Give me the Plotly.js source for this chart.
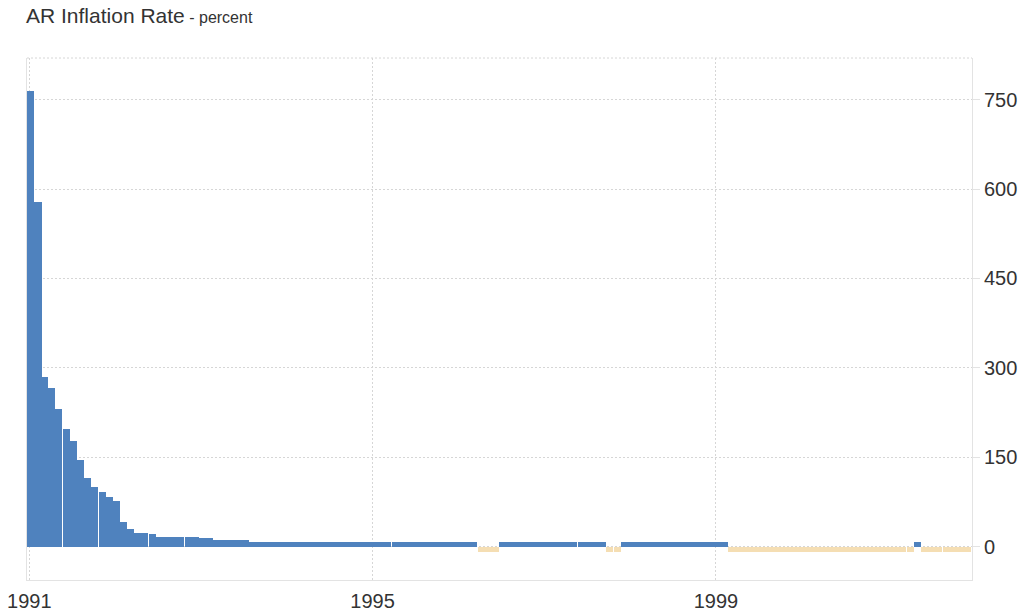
<!DOCTYPE html>
<html>
<head>
<meta charset="utf-8">
<script src="https://cdn.plot.ly/plotly-3.0.1.min.js"></script>
<style>
html,body{margin:0;padding:0;background:#ffffff;}
#chart{width:1026px;height:612px;}
</style>
</head>
<body>
<div id="chart"></div>
<script>
// Monthly inflation rate (percent)
const years = [1991, 1992, 1993, 1994, 1995, 1996, 1997, 1998, 1999, 2000, 2001];
const rate1991 = [764, 578, 284, 266, 231, 198, 178, 145, 115, 100, 91, 83];
const rate1992 = [76, 41, 30, 23.5, 23.5, 21, 17, 17, 17, 17, 17, 17];
const rate1993 = [14.6, 14.6, 11.8, 11.3, 11.2, 11.2, 11.2, 8.4, 8.4, 8.4, 8.4, 8.4];
const rate1994 = [8.4, 8.4, 8.4, 8.4, 8.4, 8.4, 8.4, 8.4, 8.4, 8.4, 8.4, 8.4];
const rate1995 = [8.4, 8.4, 8.4, 8.4, 8.4, 8.4, 8.4, 8.4, 8.4, 8.4, 8.4, 8.4];
const rate1996 = [8.4, 8.4, 8.4, -9.5, -9.5, -9.5, 8.4, 8.4, 8.4, 8.4, 8.4, 8.4];
const rate1997 = [8.4, 8.4, 8.4, 8.4, 8.4, 8.4, 8.4, 8.4, 8.4, -9.5, -9.5, 8.4];
const rate1998 = [8.4, 8.4, 8.4, 8.4, 8.4, 8.4, 8.4, 8.4, 8.4, 8.4, 8.4, 8.4];
const rate1999 = [8.4, 8.4, -9.5, -9.5, -9.5, -9.5, -9.5, -9.5, -9.5, -9.5, -9.5, -9.5];
const rate2000 = [-9.5, -9.5, -9.5, -9.5, -9.5, -9.5, -9.5, -9.5, -9.5, -9.5, -9.5, -9.5];
const rate2001 = [-9.5, -9.5, -9.5, -9.5, 8.4, -9.5, -9.5, -9.5, -9.5, -9.5, -9.5, -9.5];
const yearlyRates = [rate1991, rate1992, rate1993, rate1994, rate1995, rate1996, rate1997, rate1998, rate1999, rate2000, rate2001];

const yTickValues = [0, 150, 300, 450, 600, 750];
const xTickDates = ['1991-01-01', '1995-01-01', '1999-01-01'];
const xTickLabels = ['1991', '1995', '1999'];

// Build month dates and the flat series from the per-year arrays
const dates = [];
const values = [];
years.forEach((yr, yi) => {
  yearlyRates[yi].forEach((v, mi) => {
    dates.push(yr + '-' + String(mi + 1).padStart(2, '0') + '-01');
    values.push(v);
  });
});

const BLUE = '#4f82be';
const WHEAT = '#f5deb3';
const DAY = 86400000;

const trace = {
  type: 'bar',
  x: dates,
  y: values,
  width: 30.44 * DAY,
  offset: -9.5 * DAY,
  marker: {
    color: values.map(v => v < 0 ? WHEAT : BLUE),
    line: {width: 0}
  },
  hoverinfo: 'x+y',
  showlegend: false
};

const FONT = 'Liberation Sans, Arial, sans-serif';
const GRID = '#d6d6d6';
const DOTS = '2px,2px';

const layout = {
  width: 1026,
  height: 612,
  margin: {l: 27, r: 54, t: 58, b: 32, pad: 0},
  paper_bgcolor: '#ffffff',
  plot_bgcolor: '#ffffff',
  font: {family: FONT, color: '#333333'},
  title: {
    text: 'AR Inflation Rate<span style="font-size:16px"> - percent</span>',
    font: {family: FONT, size: 21, color: '#333333'},
    xref: 'container', yref: 'container',
    x: 26 / 1026, xanchor: 'left',
    y: 1 - 16 / 612, yanchor: 'middle'
  },
  bargap: 0,
  xaxis: {
    type: 'date',
    range: ['1990-12-22', '2001-12-26'],
    tickvals: xTickDates,
    ticktext: xTickLabels,
    tickfont: {family: FONT, size: 20, color: '#333333'},
    showgrid: true,
    gridcolor: GRID,
    griddash: DOTS,
    gridwidth: 1,
    showline: true,
    linecolor: '#e3e3e3',
    linewidth: 1,
    ticks: 'outside',
    ticklen: 3,
    tickcolor: 'rgba(0,0,0,0)',
    zeroline: false,
    fixedrange: true
  },
  yaxis: {
    side: 'right',
    range: [-56, 820],
    tickvals: yTickValues,
    ticktext: yTickValues.map(String),
    tickfont: {family: FONT, size: 20, color: '#333333'},
    showgrid: true,
    gridcolor: GRID,
    griddash: DOTS,
    gridwidth: 1,
    showline: true,
    mirror: true,
    linecolor: '#e3e3e3',
    linewidth: 1,
    ticks: 'outside',
    ticklen: 7,
    tickcolor: '#e3e3e3',
    zeroline: false,
    fixedrange: true
  },
  shapes: [
    {type: 'line', xref: 'paper', yref: 'paper', x0: 0, x1: 1, y0: 1, y1: 1,
     line: {color: GRID, width: 1, dash: DOTS}}
  ]
};

Plotly.newPlot('chart', [trace], layout, {displayModeBar: false, staticPlot: true});
</script>
</body>
</html>
